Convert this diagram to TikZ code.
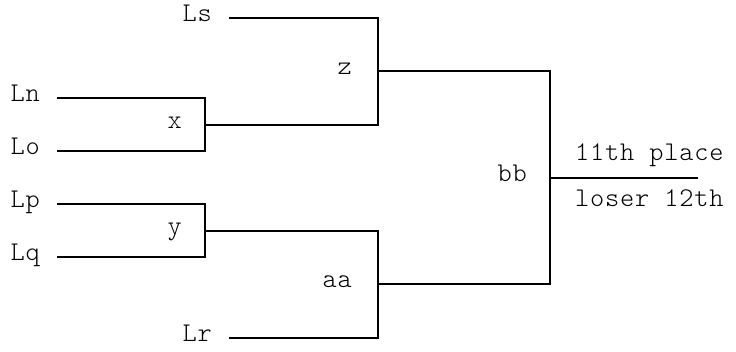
\documentclass[tikz,border=0pt]{standalone}
\usepackage{fontspec}
\setmonofont{Latin Modern Mono Light}[LetterSpace=3]
\usetikzlibrary{positioning}
\tikzstyle{team} = [font=\ttfamily\fontsize{27}{32}\selectfont, anchor=east, inner xsep=17pt, inner ysep=0pt, text height=0.7em, text depth=0pt]
\tikzstyle{game} = [font=\ttfamily\fontsize{27}{32}\selectfont, inner sep=0pt, text height=0.7em, text depth=0pt]
\tikzstyle{bracket} = [line width=1.3pt, draw=black]

\begin{document}
\begin{tikzpicture}[x=1pt, y=-1pt]
    \useasboundingbox (0,0) rectangle (736,352);
    \coordinate (x) at (205,125);
    \coordinate (y) at (205,231);
    \coordinate (z) at (378,71);
    \coordinate (aa) at (378,284);
    \coordinate (bb) at (550,178);
    \coordinate (final) at (698,178);

    \node (Ls) [team] at (229,18) {Ls};
    \node (Ln) [team] at (57,98) {Ln};
    \node (Lo) [team] at (57,151) {Lo};
    \node (Lp) [team] at (57,204) {Lp};
    \node (Lq) [team] at (57,257) {Lq};
    \node (Lr) [team] at (229,338) {Lr};

    \node (xlab) [game, left=23pt of x] {x};
    \node (ylab) [game, left=23pt of y] {y};
    \node (zlab) [game, left=26pt of z] {z};
    \node (aalab) [game, left=26pt of aa] {aa};
    \node (bblab) [game, left=23pt of bb] {bb};
    \node (win) [game, anchor=base west] at (575,161) {11th place};
    \node (lose) [game, anchor=base west] at (575,207) {loser 12th};

    \draw [bracket] (Ln.east) -| (x) |- (Lo.east);
    \draw [bracket] (Lp.east) -| (y) |- (Lq.east);
    \draw [bracket] (Ls.east) -| (z) |- (x);
    \draw [bracket] (y) -| (aa) |- (Lr.east);
    \draw [bracket] (z) -| (bb) |- (aa);
    \draw [bracket] (bb) -- (final);
\end{tikzpicture}
\end{document}
